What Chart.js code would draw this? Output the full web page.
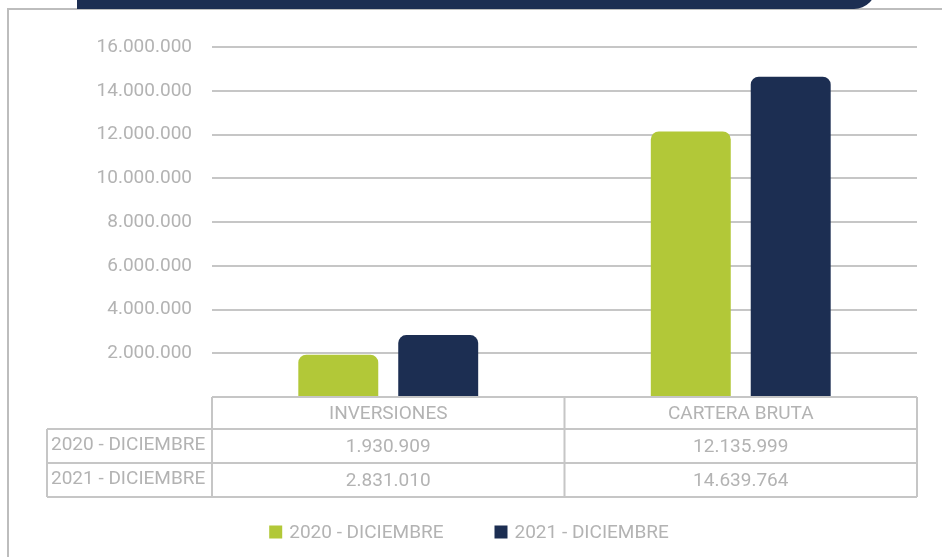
<!DOCTYPE html>
<html>
<head>
<meta charset="utf-8">
<script src="https://cdn.jsdelivr.net/npm/chart.js@4.4.0/dist/chart.umd.min.js"></script>
<style>
  html, body { margin: 0; padding: 0; background: #fff; }
  .wrap { position: relative; width: 942px; height: 557px; overflow: hidden; }
  .frame { position: absolute; left: 7px; top: 8px; right: -4px; bottom: -4px;
           border-left: 2px solid #bdbdbd; border-top: 2px solid #bdbdbd; }
  .banner { position: absolute; left: 77px; top: -20px; width: 799px; height: 29px;
            background: #1c2e52; border-bottom-right-radius: 22px; z-index: 2; }
  canvas { position: absolute; left: 0; top: 0; }
</style>
</head>
<body>
<div class="wrap">
  <div class="frame"></div>
  <div class="banner"></div>
  <canvas id="chart" width="942" height="557"></canvas>
</div>
<script>
const categories = ['INVERSIONES', 'CARTERA BRUTA'];
const seriesNames = ['2020 - DICIEMBRE', '2021 - DICIEMBRE'];
const values2020 = [1930909, 12135999];
const values2021 = [2831010, 14639764];
const yMax = 16000000;
const yStep = 2000000;

const green = '#b2c838';
const navy = '#1c2e52';
const textGray = '#b3b3b3';
const lineGray = '#c6c6c6';
const font = 'Roboto, "Open Sans", sans-serif';

const fmt = v => String(v).replace(/\B(?=(\d{3})+(?!\d))/g, '.');

// data table under the plot + legend row
const tablePlugin = {
  id: 'dataTable',
  afterDraw(chart) {
    const { ctx, chartArea: a, scales: { x } } = chart;
    const ys = [a.bottom, a.bottom + 32, a.bottom + 66, a.bottom + 100];
    const labelLeft = 47;
    const mid = (x.getPixelForValue(0) + x.getPixelForValue(1)) / 2;

    ctx.save();
    ctx.strokeStyle = lineGray;
    ctx.lineWidth = 2;
    ctx.beginPath();
    ctx.moveTo(a.left, ys[0]); ctx.lineTo(a.right, ys[0]);
    for (let i = 1; i < 4; i++) { ctx.moveTo(labelLeft, ys[i]); ctx.lineTo(a.right, ys[i]); }
    ctx.moveTo(labelLeft, ys[1]); ctx.lineTo(labelLeft, ys[3]);
    [a.left, mid, a.right].forEach(px => { ctx.moveTo(px, ys[0]); ctx.lineTo(px, ys[3]); });
    ctx.stroke();

    ctx.fillStyle = textGray;
    ctx.font = '19px ' + font;
    ctx.textBaseline = 'middle';
    ctx.textAlign = 'center';
    categories.forEach((c, i) => ctx.fillText(c, x.getPixelForValue(i), (ys[0] + ys[1]) / 2 + 1));
    chart.data.datasets.forEach((ds, r) => {
      const cy = (ys[r + 1] + ys[r + 2]) / 2 + 1;
      ctx.textAlign = 'left';
      ctx.fillText(ds.label, labelLeft + 4, cy - 2);
      ctx.textAlign = 'center';
      ds.data.forEach((v, i) => ctx.fillText(fmt(v), x.getPixelForValue(i), cy));
    });

    // legend
    const box = 13, gap = 7, spacing = 51;
    const widths = chart.data.datasets.map(ds => ctx.measureText(ds.label).width);
    const total = widths.reduce((s, w) => s + box + gap + w, 0) + spacing * (widths.length - 1);
    let lx = chart.width / 2 - 2 - total / 2;
    const ly = a.bottom + 135;
    ctx.textAlign = 'left';
    chart.data.datasets.forEach((ds, i) => {
      ctx.fillStyle = ds.backgroundColor;
      ctx.fillRect(lx, ly - 6.5, box, box);
      ctx.fillStyle = textGray;
      ctx.fillText(ds.label, lx + box + gap, ly + 1);
      lx += box + gap + widths[i] + spacing;
    });
    ctx.restore();
  }
};

new Chart(document.getElementById('chart'), {
  type: 'bar',
  data: {
    labels: categories,
    datasets: [
      { label: seriesNames[0], data: values2020, backgroundColor: green },
      { label: seriesNames[1], data: values2021, backgroundColor: navy }
    ]
  },
  options: {
    responsive: false,
    animation: false,
    layout: { padding: { top: 47, right: 25, bottom: 0, left: 0 } },
    datasets: {
      bar: { categoryPercentage: 0.567, barPercentage: 0.8, borderRadius: 8, borderSkipped: 'start' }
    },
    plugins: { legend: { display: false }, tooltip: { enabled: false } },
    scales: {
      x: {
        ticks: { display: false },
        grid: { display: false },
        border: { display: false },
        afterFit: s => { s.height = 160; }
      },
      y: {
        min: 0,
        max: yMax,
        ticks: {
          stepSize: yStep,
          padding: 20,
          color: textGray,
          font: { family: font, size: 19 },
          callback: v => (v === 0 ? '' : fmt(v))
        },
        grid: { color: lineGray, lineWidth: 2, drawTicks: false },
        border: { display: false },
        afterFit: s => { s.width = 212; }
      }
    }
  },
  plugins: [tablePlugin]
});
</script>
</body>
</html>
